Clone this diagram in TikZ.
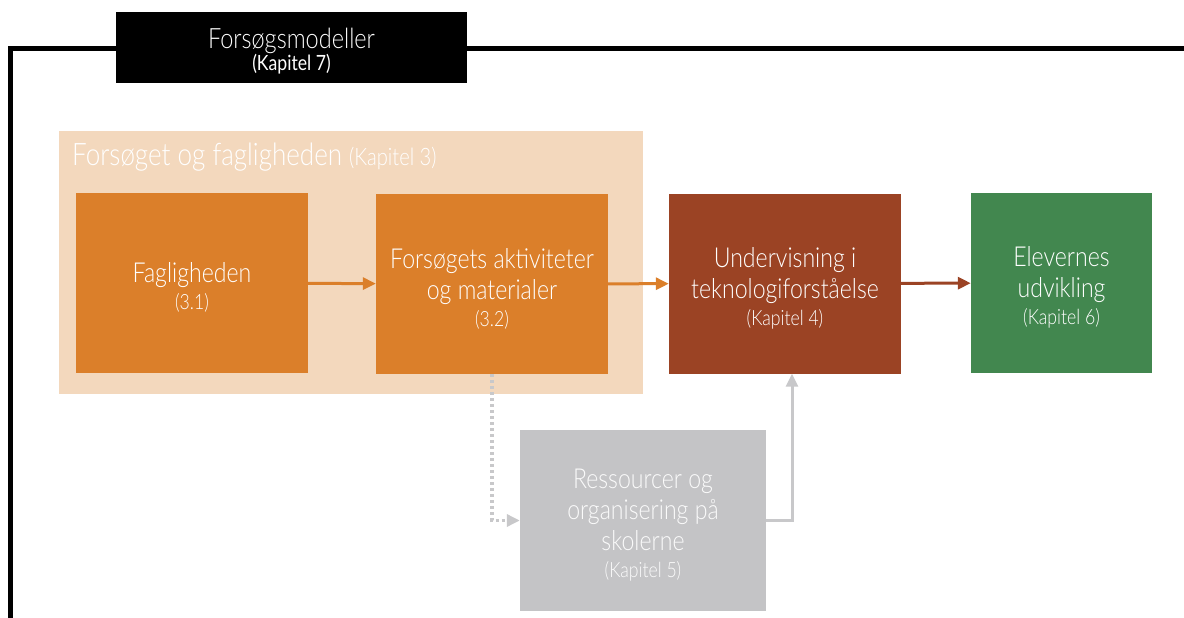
\documentclass[tikz,border=0pt]{standalone}
\usepackage{fontspec}
\setmainfont{Lato}[UprightFont=* Light, FakeStretch=0.84]
\newfontfamily\regfont{Lato}[FakeStretch=0.84]
\usetikzlibrary{arrows.meta, positioning}

\definecolor{peach}{HTML}{F3D8BD}
\definecolor{fagorange}{HTML}{DB7F2A}
\definecolor{brick}{HTML}{9B4324}
\definecolor{leaf}{HTML}{42874F}
\definecolor{ashgray}{HTML}{C4C4C6}
\definecolor{arrowgray}{HTML}{C8C8CA}

\begin{document}
\begin{tikzpicture}[x=1pt, y=-1pt, >={Triangle[length=13pt, width=12pt]}]

% --------- 共用樣式 ----------
\tikzset{
  box/.style={inner sep=0pt, align=center, text=white,
    minimum width=232pt, minimum height=180pt,
    font=\fontsize{27.5}{31}\selectfont},
  orangebox/.style={box, fill=fagorange},
  link/.style={->, line width=3pt},
  helper/.style={->, line width=3.5pt, arrowgray, dash pattern=on 3pt off 3pt}
}
\newcommand{\kap}[1]{\\[-4pt]{\fontsize{21}{24}\selectfont #1}}
\newcommand{\st}{\rule{0pt}{29pt}}

\useasboundingbox (0,0) rectangle (1184,618);

% ===================== ramme: forsøgsmodeller =====================
\coordinate (frameA) at (10.5,640);
\coordinate (frameB) at (10.5,48.5);
\coordinate (frameC) at (1200,48.5);
\draw[line width=4.5pt] (frameA) -- (frameB) -- (frameC);
\node[fill=black, text=white, inner sep=0pt, align=center,
  minimum width=351pt, minimum height=71pt,
  font=\fontsize{28}{30}\selectfont] (model) at (291.5,47.5)
  {\rule{0pt}{27pt}Forsøgsmodeller\\[-8pt]{\regfont\fontsize{21}{24}\selectfont (Kapitel 7)}};

% ===================== (kapitel 3) faglighed =====================
\node[fill=peach, minimum width=584pt, minimum height=263pt, inner sep=0pt] (fag) at (351,262.5) {};
\node[anchor=west, text=white, inner sep=0pt, font=\fontsize{31}{34}\selectfont] (fagtitle) at (72,157)
  {Forsøget og fagligheden {\fontsize{24}{26}\selectfont (Kapitel 3)}};

\node[orangebox] (faglig) at (192,283) {\st Fagligheden\kap{(3.1)}};
\node[orangebox] (akt) at (492,284) {\st Forsøgets aktiviteter\\og materialer\kap{(3.2)}};

% ===================== undervisning og elever =====================
\node[box, fill=brick] (und) at (785,283.5) {\st Undervisning i\\teknologiforståelse\kap{(Kapitel 4)}};
\node[box, fill=leaf, minimum width=181pt] (elev) at (1061.5,283) {\st Elevernes\\udvikling\kap{(Kapitel 6)}};

\node[box, fill=ashgray, text=white!93!ashgray, minimum width=246pt, minimum height=181pt] (res) at (643,520.5)
  {\st Ressourcer og\\organisering på\\skolerne\kap{(Kapitel 5)}};

% pile
\draw[link, fagorange] (faglig) -- (akt);
\draw[link, fagorange] (akt) -- (und);
\draw[link, brick] (und) -- (elev);
\draw[helper] (akt.south) |- (res.west);
\draw[link, arrowgray] (res.east) -| ([xshift=7pt]und.south);

\end{tikzpicture}
\end{document}
